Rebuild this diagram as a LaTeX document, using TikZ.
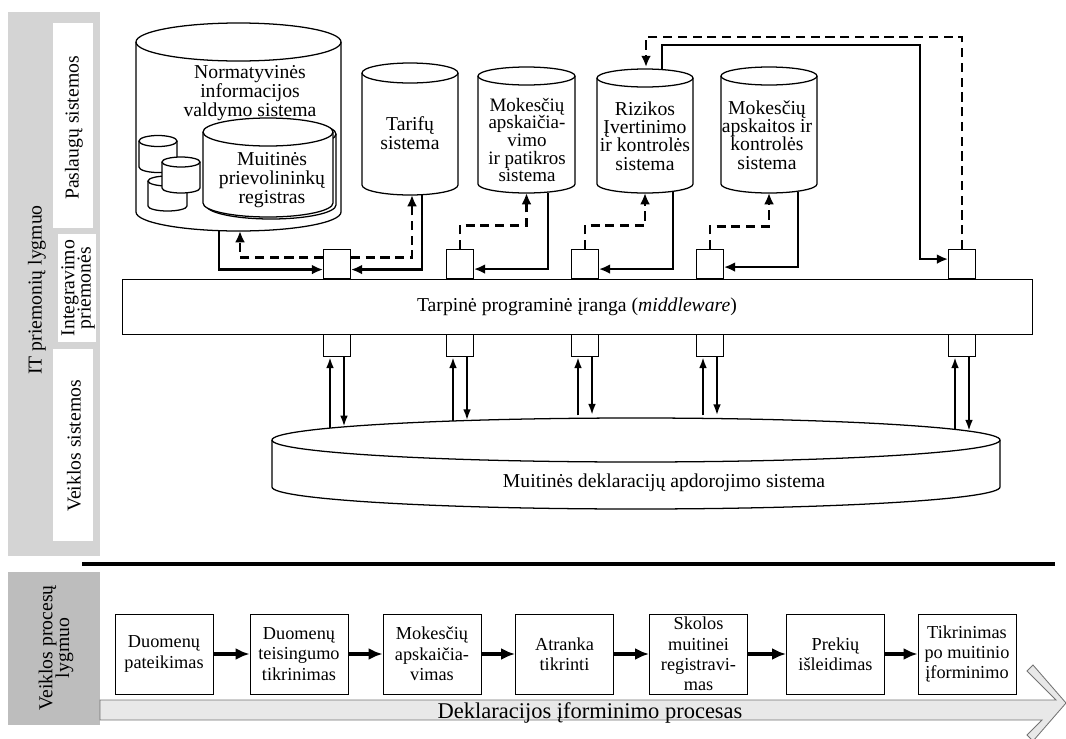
\documentclass[tikz,border=0pt]{standalone}
\usepackage{fontspec}
\setmainfont{Liberation Serif}
\usetikzlibrary{arrows.meta,calc}

\setlength{\lineskiplimit}{-10pt}
\newcommand{\pxu}{0.025cm}

% cylinder: name, centre x, top ellipse y, bottom ellipse y, x radius, y radius
\newcommand{\dbcyl}[6]{%
  \fill[white] (#2-#5,#3) arc[start angle=180,end angle=360,x radius=#5,y radius=#6]
    -- (#2+#5,#4) arc[start angle=0,end angle=180,x radius=#5,y radius=#6] -- cycle;
  \draw[cylline] (#2,#3) ellipse[x radius=#5,y radius=#6];
  \draw[cylline] (#2-#5,#3) -- (#2-#5,#4)
    arc[start angle=180,end angle=0,x radius=#5,y radius=#6] -- (#2+#5,#3);
  \coordinate (#1-t) at (#2,#3-#6);
  \coordinate (#1-b) at (#2,#4+#6);
}

\begin{document}
\begin{tikzpicture}[x=0.025cm,y=-0.025cm,
    cylline/.style={line width=0.9pt},
    cyltxt/.style={align=center, inner sep=0, font=\fontsize{14}{13.5}\selectfont},
    sidelbl/.style={rotate=90, inner sep=0, align=center, font=\fontsize{14}{16}\selectfont},
    port/.style={draw, line width=0.6pt, fill=white, inner sep=0,
      minimum width=27*\pxu, minimum height=29*\pxu},
    mwbox/.style={draw, line width=0.6pt, fill=white, inner sep=0,
      minimum width=910*\pxu, minimum height=55*\pxu, font=\fontsize{14}{16}\selectfont},
    procbox/.style={draw, line width=0.6pt, fill=white, inner sep=1pt, align=center,
      minimum width=98*\pxu, minimum height=80*\pxu, font=\fontsize{13}{14.5}\selectfont},
    sol/.style={draw, line width=2pt, -{Latex[length=8pt,width=7pt]}},
    dsh/.style={sol, dash pattern=on 6.5pt off 4pt},
    updn/.style={draw, line width=1.6pt, -{Latex[length=8pt,width=5.5pt]}},
    flow/.style={draw, line width=2.2pt, -{Latex[length=10pt,width=8.5pt]}}]

  \useasboundingbox (0,0) rectangle (1066,738);

  % Level bands
  \fill[black!17] (8,12) rectangle (100,556);
  \fill[white] (53,23) rectangle (93,228);
  \fill[white] (58,234) rectangle (96,342);
  \fill[white] (53,349) rectangle (93,541);
  \node[sidelbl] (itlvl) at (37,290) {IT priemonių lygmuo};
  \node[sidelbl] (svclbl) at (74,128) {Paslaugų sistemos};
  \node[sidelbl, font=\fontsize{14}{11.5}\selectfont] (intlbl) at (78,288) {Integravimo\\priemonės};
  \node[sidelbl] (bizlbl) at (74,446) {Veiklos sistemos};

  \fill[black!26] (8,572) rectangle (100,725);
  \node[sidelbl, font=\fontsize{14}{12}\selectfont] (proclvl) at (56,648) {Veiklos procesų\\lygmuo};

  \draw[line width=3.5pt] (82,564) -- (1055,564);

  % Service systems
  \dbcyl{norm}{238.5}{42}{212}{102.5}{19}
  \dbcyl{sa}{158}{141}{167}{19}{5.5}
  \dbcyl{sc}{167.5}{181}{206}{19.5}{5}
  \dbcyl{sb}{181}{162}{188}{19}{5}
  \begin{scope}[shift={(3,2)}]
    \dbcyl{regsh}{268}{132}{203}{65}{14}
  \end{scope}
  \dbcyl{reg}{268}{132}{203}{65}{14}
  \node[cyltxt] (normtxt) at (250,93) {Normatyvinės\\informacijos\\valdymo sistema};
  \node[cyltxt] (regtxt) at (272,180) {Muitinės\\prievolininkų\\registras};

  \dbcyl{tarif}{410}{73}{185}{48}{10}
  \node[cyltxt] (tariftxt) at (410,133) {Tarifų\\sistema};
  \dbcyl{taxcalc}{526.5}{76}{184}{48.5}{9}
  \node[cyltxt, font=\fontsize{13.5}{12.6}\selectfont] (taxcalctxt) at (527,140)
    {Mokesčių\\apskaičia-\\vimo\\ir patikros\\sistema};
  \dbcyl{risk}{645}{78}{184}{48}{9}
  \node[cyltxt, font=\fontsize{14}{13}\selectfont] (risktxt) at (645,136)
    {Rizikos\\Įvertinimo\\ir kontrolės\\sistema};
  \dbcyl{taxacc}{769}{76}{184}{48}{9}
  \node[cyltxt, font=\fontsize{14}{13}\selectfont] (taxacctxt) at (767,135)
    {Mokesčių\\apskaitos ir\\kontrolės\\sistema};

  % Business system
  \dbcyl{decl}{636}{440}{487}{364}{22}
  \node[font=\fontsize{14}{16}\selectfont] (decltxt) at (664,483)
    {Muitinės deklaracijų apdorojimo sistema};

  % Middleware and ports
  \node[mwbox] (mw) at (577,306.5) {Tarpinė programinė įranga (\textit{middleware})};
  \foreach \i/\x in {1/337,2/460,3/585,4/710,5/962} {
    \node[port, anchor=south] (p\i) at (\x,279) {};
    \node[port, anchor=north, minimum height=22*\pxu] (q\i) at (\x,334) {};
  }

  % Service connectors
  \draw[sol] ($(norm-b)+(-19.5,-1)$) |- ($(p1.west)+(0,5.5)$);
  \draw[dsh] ($(p1.west)+(0,-6.5)$) -| ($(norm-b)+(1.5,0)$);
  \draw[dsh] ($(p1.east)+(0,-6.5)$) -| ($(tarif-b)+(2,0)$);
  \draw[sol] ($(tarif-b)+(12,-0.5)$) |- ($(p1.east)+(0,5.5)$);

  \draw[dsh] (p2.north) -- ++(0,-24) -| (taxcalc-b);
  \draw[sol] ($(taxcalc-b)+(21.5,-0.5)$) |- ($(p2.east)+(0,5)$);
  \draw[dsh] (p3.north) -- ++(0,-24) -| (risk-b);
  \draw[sol] ($(risk-b)+(28,-1)$) |- ($(p3.east)+(0,5)$);
  \draw[dsh] (p4.north) -- ++(0,-23) -| (taxacc-b);
  \draw[sol] ($(taxacc-b)+(29,-1)$) |- ($(p4.east)+(0,3)$);

  \coordinate (loopsol) at (920,45);
  \coordinate (loopdsh) at (646,37);
  \draw[sol] ($(risk-t)+(17,1)$) |- (loopsol) |- ($(p5.west)+(0,-5)$);
  \draw[dsh] (p5.north) |- (loopdsh) -- ($(risk-t)+(1,-2)$);

  % Business connectors
  \foreach \i/\x/\g in {1/337/0,2/460/0,3/585/3,4/710/3,5/962/0} {
    \draw[updn] (\x-7,{440-\g-22*sqrt(1-((\x-7-636)/364)^2)}) -- ($(q\i.south)+(-7,0)$);
    \draw[updn] ($(q\i.south)+(7,0)$) -- (\x+7,{440-\g-22*sqrt(1-((\x+7-636)/364)^2)});
  }

  % Process flow
  \filldraw[fill=black!9, draw=black!55, line width=0.6pt]
    (100,700) -- (1056,700) -- (1027,671) -- (1033,665) -- (1066,703)
    -- (1033,741) -- (1027,735) -- (1042,720) -- (100,720) -- cycle;
  \node[font=\fontsize{16}{18}\selectfont, anchor=base] (flowtxt) at (590,718)
    {Deklaracijos įforminimo procesas};

  \node[procbox] (s1) at (164,654) {Duomenų\\pateikimas};
  \node[procbox] (s2) at (299,654) {Duomenų\\teisingumo\\tikrinimas};
  \node[procbox] (s3) at (432,654) {Mokesčių\\apskaičia-\\vimas};
  \node[procbox] (s4) at (564.5,654) {Atranka\\tikrinti};
  \node[procbox] (s5) at (698.5,654) {Skolos\\muitinei\\registravi-\\mas};
  \node[procbox] (s6) at (835.5,654) {Prekių\\išleidimas};
  \node[procbox] (s7) at (967,654) {Tikrinimas\\po muitinio\\įforminimo};
  \foreach \a/\b in {s1/s2,s2/s3,s3/s4,s4/s5,s5/s6,s6/s7}
    \draw[flow] (\a) -- (\b);

\end{tikzpicture}
\end{document}
